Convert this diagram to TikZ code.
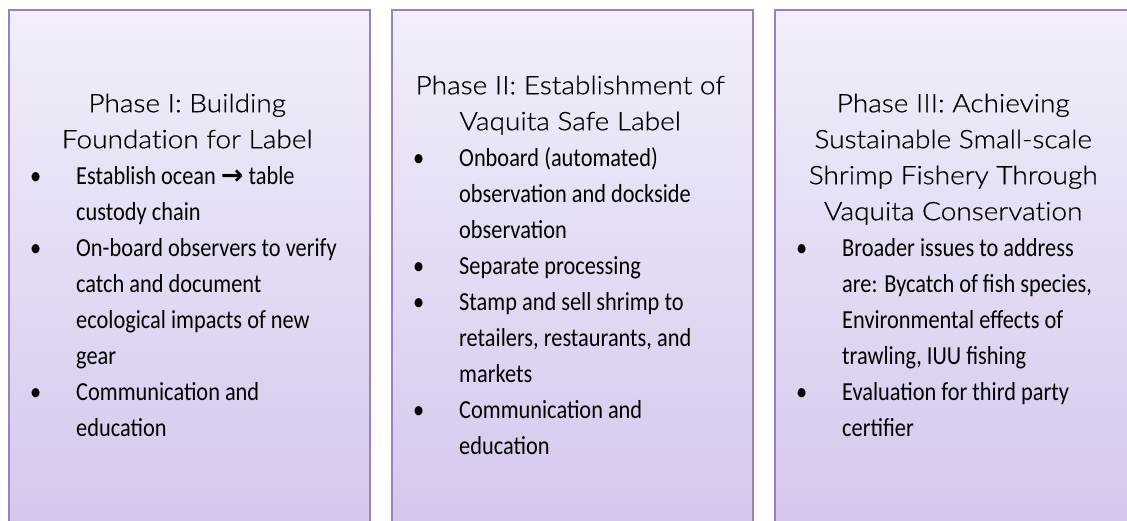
\documentclass[tikz,border=0pt]{standalone}
\usepackage{fontspec}
\setmainfont{Carlito}[FakeStretch=0.86]
\newfontfamily\headfont{Lato Light}[FakeStretch=1.1,FakeBold=0.6,Ligatures={NoCommon,NoRare,NoDiscretionary}]
\newfontfamily\arrowfont{DejaVu Sans Bold}
\usetikzlibrary{positioning,shadows}
\definecolor{PhaseTop}{RGB}{242,238,250}
\definecolor{PhaseBottom}{RGB}{213,199,236}
\definecolor{PhaseEdge}{RGB}{152,128,196}

\newcommand{\bul}{\makebox[46pt][l]{\textbullet}}
\newcommand{\phasehead}[1]{\multicolumn{2}{@{}l@{}}{\makebox[314pt]{\headfont\fontsize{25.5}{36}\selectfont #1}}}

\begin{document}
\begin{tikzpicture}[x=1pt,y=1pt,node distance=22pt,
  phasebox/.style={draw=PhaseEdge,line width=2pt,top color=PhaseTop,bottom color=PhaseBottom,
    minimum width=361pt,minimum height=514pt,inner sep=0pt,outer sep=0pt,
    drop shadow={shadow xshift=0pt,shadow yshift=-2pt,shadow scale=1.008,opacity=0.2}},
  phasetext/.style={anchor=west,inner sep=0pt,font=\fontsize{26}{36}\selectfont}]
\useasboundingbox (0,0) rectangle (1127,521);
\node[phasebox] (p1) at (189.5,254) {};
\node[phasebox,right=of p1] (p2) {};
\node[phasebox,right=of p2] (p3) {};

\node[phasetext] (t1) at ([xshift=21pt]p1.west) {\begin{tabular}{@{}l@{}l@{}}
\phasehead{Phase I: Building}\\
\phasehead{Foundation for Label}\\
\bul & Establish ocean {\arrowfont\fontsize{27}{36}\selectfont →} table\\
 & custody chain\\
\bul & On-board observers to verify\\
 & catch and document\\
 & ecological impacts of new\\
 & gear\\
\bul & Communication and\\
 & education
\end{tabular}};

\node[phasetext] (t2) at ([xshift=21pt]p2.west) {\begin{tabular}{@{}l@{}l@{}}
\phasehead{Phase II: Establishment of}\\
\phasehead{Vaquita Safe Label}\\
\bul & Onboard (automated)\\
 & observation and dockside\\
 & observation\\
\bul & Separate processing\\
\bul & Stamp and sell shrimp to\\
 & retailers, restaurants, and\\
 & markets\\
\bul & Communication and\\
 & education
\end{tabular}};

\node[phasetext] (t3) at ([xshift=21pt]p3.west) {\begin{tabular}{@{}l@{}l@{}}
\phasehead{Phase III: Achieving}\\
\phasehead{Sustainable Small-scale}\\
\phasehead{Shrimp Fishery Through}\\
\phasehead{Vaquita Conservation}\\
\bul & Broader issues to address\\
 & are: Bycatch of fish species,\\
 & Environmental effects of\\
 & trawling, IUU fishing\\
\bul & Evaluation for third party\\
 & certifier
\end{tabular}};
\end{tikzpicture}
\end{document}
